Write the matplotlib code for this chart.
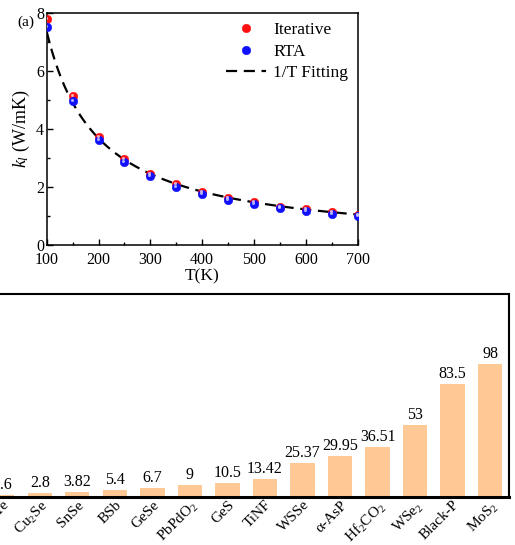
import matplotlib
matplotlib.use("Agg")
import matplotlib.pyplot as plt
import numpy as np
from matplotlib.transforms import offset_copy
from matplotlib.ticker import MultipleLocator

plt.rcParams['font.family'] = ['Liberation Serif', 'DejaVu Serif']
plt.rcParams['mathtext.fontset'] = 'custom'
plt.rcParams['mathtext.rm'] = 'Liberation Serif'
plt.rcParams['mathtext.it'] = 'Liberation Serif:italic'

# ---- data: panel (a)
temps = [100, 150, 200, 250, 300, 350, 400, 450, 500, 550, 600, 650, 700]
k_iterative = [7.80, 5.13, 3.73, 2.95, 2.45, 2.10, 1.83, 1.62, 1.47, 1.32, 1.23, 1.14, 1.04]
k_rta = [7.52, 4.96, 3.62, 2.85, 2.36, 2.01, 1.76, 1.55, 1.40, 1.27, 1.17, 1.08, 0.99]

# ---- data: comparison bars
materials = ['SnTe', 'Cu$_2$Se', 'SnSe', 'BSb', 'GeSe', 'PbPdO$_2$', 'GeS', 'TiNF',
             'WSSe', 'α-AsP', 'Hf$_2$CO$_2$', 'WSe$_2$', 'Black-P', 'MoS$_2$']
values = [1.6, 2.8, 3.82, 5.4, 6.7, 9, 10.5, 13.42, 25.37, 29.95, 36.51, 53, 83.5, 98]
value_labels = ['1.6', '2.8', '3.82', '5.4', '6.7', '9', '10.5', '13.42', '25.37',
                '29.95', '36.51', '53', '83.5', '98']

W, H = 515, 545
fig = plt.figure(figsize=(W / 100, H / 100), dpi=100)

# ---------------- panel (a)
ax = fig.add_axes([46.7 / W, 1 - 245 / H, 311 / W, 232.3 / H])
T = np.array(temps, float)
kr = np.array(k_rta, float)
# least-squares 1/T fit to RTA data
a_fit = np.sum(kr / T) / np.sum(1 / T ** 2)
Tf = np.linspace(100, 700, 300)
ax.plot(Tf, a_fit / Tf, ls=(0, (5, 3)), color='black', lw=1.6, label='1/T Fitting', zorder=2)

def balls(x, y, color, hl, label):
    ax.plot(x, y, 'o', ms=6.2, mfc=color, mec=color, mew=0.3, label=label, zorder=3)
    tr = offset_copy(ax.transData, fig=fig, x=-1.0, y=1.0, units='dots')
    ax.plot(x, y, 'o', ms=2.2, mfc=hl, mec='none', transform=tr, zorder=4, alpha=0.8)

balls(temps, k_iterative, '#ff1010', '#ffd0d0', 'Iterative')
balls(temps, k_rta, '#1010ff', '#d0d0ff', 'RTA')

ax.set_xlim(100, 700)
ax.set_ylim(0, 8)
ax.xaxis.set_major_locator(MultipleLocator(100))
ax.xaxis.set_minor_locator(MultipleLocator(50))
ax.yaxis.set_major_locator(MultipleLocator(2))
ax.yaxis.set_minor_locator(MultipleLocator(1))
ax.tick_params(which='both', direction='in', top=False, right=False, labelsize=11.5)
ax.tick_params(axis='x', pad=5)
ax.tick_params(axis='y', pad=2)
ax.tick_params(which='major', length=4, width=1.0)
ax.tick_params(which='minor', length=2.5, width=1.0)
for s in ax.spines.values():
    s.set_linewidth(1.1)
ax.set_xlabel('T(K)', fontsize=12.5, labelpad=0)
ax.set_ylabel('$k_l$ (W/mK)', fontsize=13, labelpad=3)
h, l = ax.get_legend_handles_labels()
order = [l.index('Iterative'), l.index('RTA'), l.index('1/T Fitting')]
ax.legend([h[i] for i in order], [l[i] for i in order], loc='upper right', frameon=False,
          fontsize=12.5, handlelength=2.3, handletextpad=0.4, labelspacing=0.3,
          borderaxespad=0.0, borderpad=0.55)
fig.text(17 / W, 1 - 22 / H, '(a)', fontsize=11, va='center', ha='left')

# ---------------- bar panel
n = len(materials)
px_per = 37.54
width_px = n * px_per
right_px = 509
left_px = right_px - width_px
bx = fig.add_axes([left_px / W, 1 - 497 / H, width_px / W, 203 / H])
xs = np.arange(n)
bx.bar(xs, values, width=0.65, color='#FFC995', edgecolor='none')
for x, v, t in zip(xs, values, value_labels):
    bx.text(x, v + 1.5, t, ha='center', va='bottom', fontsize=11.5)
bx.set_xlim(-0.5, n - 0.5)
bx.set_ylim(0, 149.6)
bx.set_xticks(xs)
bx.set_xticklabels(materials, rotation=45, ha='right', rotation_mode='anchor', fontsize=11)
bx.tick_params(axis='x', length=0, pad=1)
bx.set_yticks([])
for s in bx.spines.values():
    s.set_linewidth(1.5)
bx.spines['bottom'].set_linewidth(2.2)

fig.savefig('out.png', dpi=100)
